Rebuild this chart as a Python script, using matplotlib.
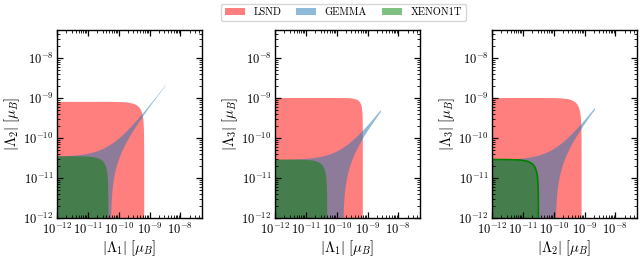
import numpy as np
import matplotlib
matplotlib.use("Agg")
import matplotlib.pyplot as plt
from matplotlib.patches import Patch
from matplotlib.ticker import LogLocator, NullFormatter

plt.rcParams['font.family'] = ['cmr10', 'DejaVu Serif']
plt.rcParams['mathtext.fontset'] = 'cm'
plt.rcParams['axes.formatter.use_mathtext'] = True

# axis labels for the three coupling planes
x_labels = [r'$|\Lambda_1|\;[\mu_B]$', r'$|\Lambda_1|\;[\mu_B]$', r'$|\Lambda_2|\;[\mu_B]$']
y_labels = [r'$|\Lambda_2|\;[\mu_B]$', r'$|\Lambda_3|\;[\mu_B]$', r'$|\Lambda_3|\;[\mu_B]$']

# LSND allowed region (semi-axes, corner exponent)
lsnd_x = [6.7e-10, 7.0e-10, 8.0e-10]
lsnd_y = [8.0e-10, 1.0e-9, 1.0e-9]
lsnd_p = [2.0, 3.0, 2.0]

# GEMMA band |x/x0 - y/y0| < 1, scanned up to gemma_scan
gemma_x0 = [5.3e-11, 1.55e-10, 1.1e-10]
gemma_y0 = [3.5e-11, 2.9e-11, 2.9e-11]
gemma_scan = [3.2e-9, 2.6e-9, 2.1e-9]

# XENON1T allowed region
xenon_x = [4.6e-11, 4.9e-11, 3.2e-11]
xenon_y = [3.5e-11, 2.9e-11, 2.9e-11]
xenon_edge = [False, False, True]

tiny = 1e-13


def ellipse(a, b, p):
    t = np.linspace(0, np.pi / 2, 3000)
    x = a * np.cos(t) ** (2 / p)
    y = b * np.sin(t) ** (2 / p)
    x = np.maximum(x, tiny)
    y = np.maximum(y, tiny)
    return np.append(x, tiny), np.append(y, tiny)


fig = plt.figure(figsize=(6.43, 2.61), dpi=100)
lefts = [57, 275, 492]
for i in range(3):
    ax = fig.add_axes([lefts[i] / 643, 43 / 261, 145 / 643, 188 / 261])

    ex, ey = ellipse(lsnd_x[i], lsnd_y[i], lsnd_p[i])
    ax.fill(ex, ey, color='red', alpha=0.5, lw=0)

    x0, y0 = gemma_x0[i], gemma_y0[i]
    xs = np.logspace(-13, np.log10(gemma_scan[i]), 3000)
    xs = np.sort(np.concatenate([xs, x0 * (1 + np.logspace(-6, 0, 600))]))
    xs = xs[xs <= gemma_scan[i]]
    hi = y0 * (xs / x0 + 1)
    lo = np.maximum(y0 * (xs / x0 - 1), tiny)
    ax.fill_between(xs, lo, hi, color='C0', alpha=0.5, lw=0)

    gx, gy = ellipse(xenon_x[i], xenon_y[i], 2.0)
    ax.fill(gx, gy, color='green', alpha=0.5, lw=0)
    if xenon_edge[i]:
        ax.plot(gx[:-1], gy[:-1], color='green', lw=1.2)

    ax.set_xscale('log')
    ax.set_yscale('log')
    ax.set_xlim(1e-12, 5e-8)
    ax.set_ylim(1e-12, 5e-8)
    ax.set_xticks([1e-12, 1e-11, 1e-10, 1e-9, 1e-8])
    ax.set_yticks([1e-12, 1e-11, 1e-10, 1e-9, 1e-8])
    for axis in (ax.xaxis, ax.yaxis):
        axis.set_minor_locator(LogLocator(base=10, subs=np.arange(2, 10), numticks=50))
        axis.set_minor_formatter(NullFormatter())
    ax.tick_params(which='both', direction='in', top=True, right=True, labelsize=9)
    ax.tick_params(which='major', length=4, width=0.9, pad=2.5)
    ax.tick_params(which='minor', length=2, width=0.6)
    for s in ax.spines.values():
        s.set_linewidth(1.0)
    ax.set_xlabel(x_labels[i], fontsize=10.5, labelpad=1)
    ax.set_ylabel(y_labels[i], fontsize=10.5, labelpad=1)

handles = [Patch(color='red', alpha=0.5, lw=0, label='LSND'),
           Patch(color='C0', alpha=0.5, lw=0, label='GEMMA'),
           Patch(color='green', alpha=0.5, lw=0, label='XENON1T')]
fig.legend(handles=handles, loc='upper center', bbox_to_anchor=(0.534, 1.0),
           ncol=3, fontsize=7.5, handlelength=1.9, handletextpad=0.85,
           columnspacing=1.4, borderaxespad=0.35, frameon=True)

fig.savefig('out.png', dpi=100)
